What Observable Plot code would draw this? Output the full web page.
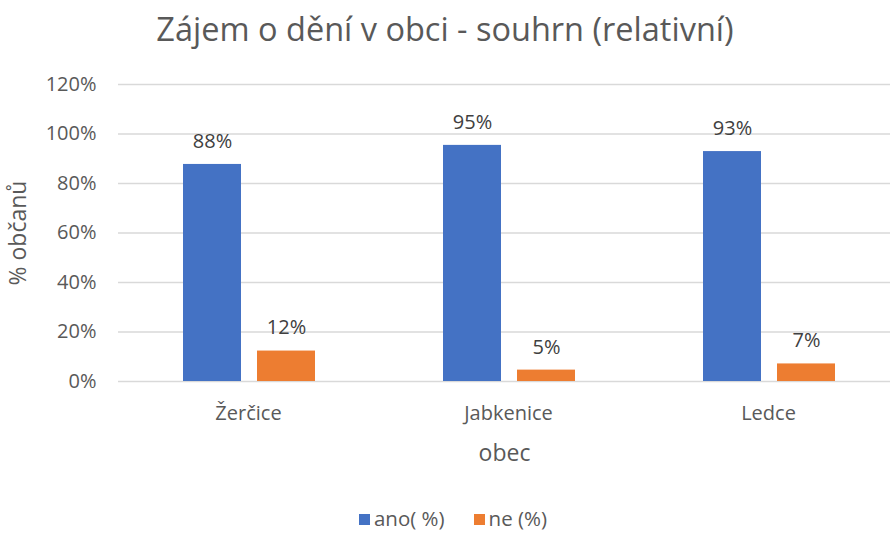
<!DOCTYPE html>
<html>
<head>
<meta charset="utf-8">
<script src="https://cdn.jsdelivr.net/npm/d3@7"></script>
<script src="https://cdn.jsdelivr.net/npm/@observablehq/plot@0.6"></script>
<style>
  html, body { margin: 0; padding: 0; background: #fff; }
  body { width: 890px; height: 533px; font-family: "Open Sans", sans-serif; }
  #title { height: 47px; padding-top: 13px; line-height: 32.5px; font-size: 32.5px; color: #595959; text-align: center; white-space: nowrap; }
  #chart svg { display: block; overflow: hidden; }
  #legend { height: 33px; display: flex; justify-content: center; align-items: flex-start; padding-left: 16px; padding-top: 5px; box-sizing: border-box; font-size: 20.5px; line-height: 27px; color: #595959; }
  .item { display: flex; align-items: center; height: 27px; }
  .item + .item { margin-left: 29px; }
  .sw { width: 11px; height: 11px; margin-right: 4px; margin-top: 2px; }
</style>
</head>
<body>
<div id="title">Zájem o dění v obci - souhrn (relativní)</div>
<div id="chart"></div>
<div id="legend"></div>
<script>
const obce = ["Žerčice", "Jabkenice", "Ledce"];
const series = ["ano( %)", "ne (%)"];
const ano = [87.7, 95.4, 92.9];
const ne = [12.3, 4.6, 7.1];
const yTicks = [0, 20, 40, 60, 80, 100, 120];
const colors = ["#4472C4", "#ED7D31"];
const xTitle = "obec";
const yTitle = "% občanů";

const rowsAno = obce.map((o, i) => ({obec: o, serie: series[0], value: ano[i]}));
const rowsNe = obce.map((o, i) => ({obec: o, serie: series[1], value: ne[i]}));
const fmt = d => Math.round(d) + "%";

const plot = Plot.plot({
  width: 890,
  height: 440,
  marginLeft: 118,
  marginRight: 0,
  marginTop: 24,
  marginBottom: 119,
  style: {fontFamily: "Open Sans", fontSize: "20px", color: "#595959", background: "#fff"},
  x: {type: "band", domain: obce, range: [118, 898], padding: 0},
  y: {domain: [0, 120]},
  marks: [
    Plot.ruleY(yTicks, {stroke: "#d9d9d9", strokeWidth: 1.5}),
    Plot.barY(rowsAno, {x: "obec", y: "value", fill: colors[0], insetLeft: 65, insetRight: 137}),
    Plot.barY(rowsNe, {x: "obec", y: "value", fill: colors[1], insetLeft: 139, insetRight: 63}),
    Plot.text(rowsAno, {x: "obec", y: "value", text: d => fmt(d.value), dx: -36, dy: -23, fontSize: 20, fill: "#404040"}),
    Plot.text(rowsNe, {x: "obec", y: "value", text: d => fmt(d.value), dx: 38, dy: -23, fontSize: 20, fill: "#404040"}),
    Plot.axisY({ticks: yTicks, tickFormat: d => d + "%", tickSize: 0, tickPadding: 22, label: null}),
    Plot.axisX({tickSize: 0, tickPadding: 24, label: null}),
    Plot.text([xTitle], {frameAnchor: "bottom", text: d => d, textAnchor: "middle", lineAnchor: "middle", dy: 72, fontSize: 23, fill: "#595959"}),
    Plot.text([yTitle], {frameAnchor: "left", text: d => d, textAnchor: "middle", lineAnchor: "middle", rotate: -90, dx: -100, fontSize: 23, fill: "#595959"})
  ]
});
document.getElementById("chart").appendChild(plot);

const legend = document.getElementById("legend");
series.forEach((s, i) => {
  const item = document.createElement("div");
  item.className = "item";
  const sw = document.createElement("span");
  sw.className = "sw";
  sw.style.background = colors[i];
  const t = document.createElement("span");
  t.textContent = s;
  item.appendChild(sw);
  item.appendChild(t);
  legend.appendChild(item);
});
</script>
</body>
</html>
